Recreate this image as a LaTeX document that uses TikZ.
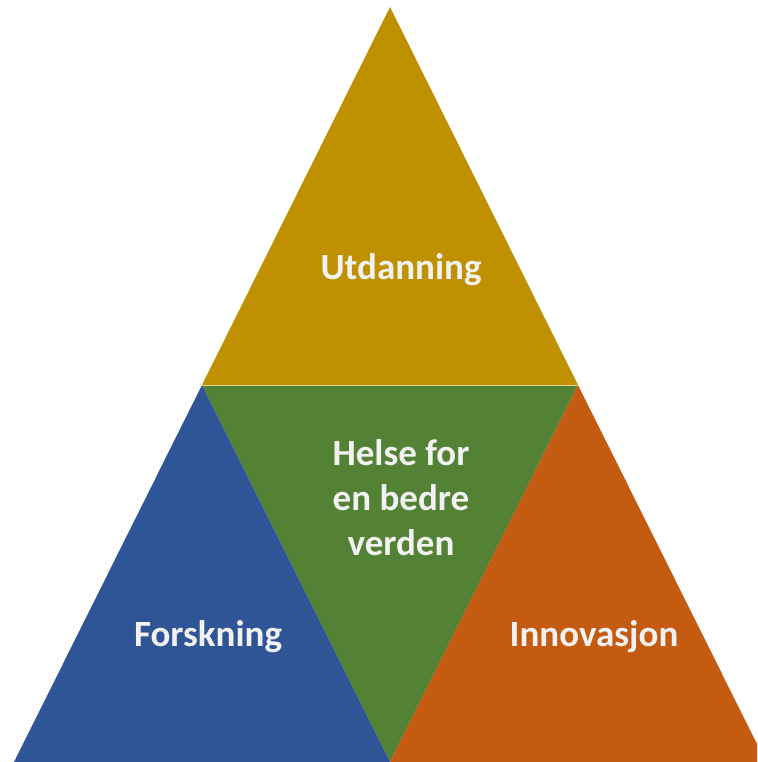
\documentclass[tikz,border=0pt]{standalone}
\usepackage{fontspec}
\setmainfont{Carlito}
\definecolor{cyellow}{HTML}{BF9000}
\definecolor{cgreen}{HTML}{548235}
\definecolor{cblue}{HTML}{2F5597}
\definecolor{corange}{HTML}{C55A11}
\definecolor{ctext}{HTML}{F2F2F2}
\begin{document}
\begin{tikzpicture}[x=1pt,y=-1pt,
  lbl/.style={text=ctext,font=\fontsize{37}{45}\selectfont\bfseries,align=center,inner sep=0pt}]
\useasboundingbox (0,0) rectangle (757,762);
\clip (0,0) rectangle (757,762);
\coordinate (apex) at (390,7);
\coordinate (ml) at (202,385);
\coordinate (mr) at (578,385);
\coordinate (bl) at (14,762);
\coordinate (bm) at (390,762);
\coordinate (br) at (766,762);
\fill[cyellow] (apex) -- (mr) -- (ml) -- cycle;
\fill[cgreen] (ml) -- (mr) -- (bm) -- cycle;
\fill[cblue] (ml) -- (bm) -- (bl) -- cycle;
\fill[corange] (mr) -- (br) -- (bm) -- cycle;
\draw[cyellow!40!white,line width=0.8pt] (ml) -- (mr);
\node[lbl] (u) at (401,270) {Utdanning};
\node[lbl] (h) at (401,498) {Helse for\\en bedre\\verden};
\node[lbl] (f) at (208,637) {Forskning};
\node[lbl] (i) at (594,637) {Innovasjon};
\end{tikzpicture}
\end{document}
